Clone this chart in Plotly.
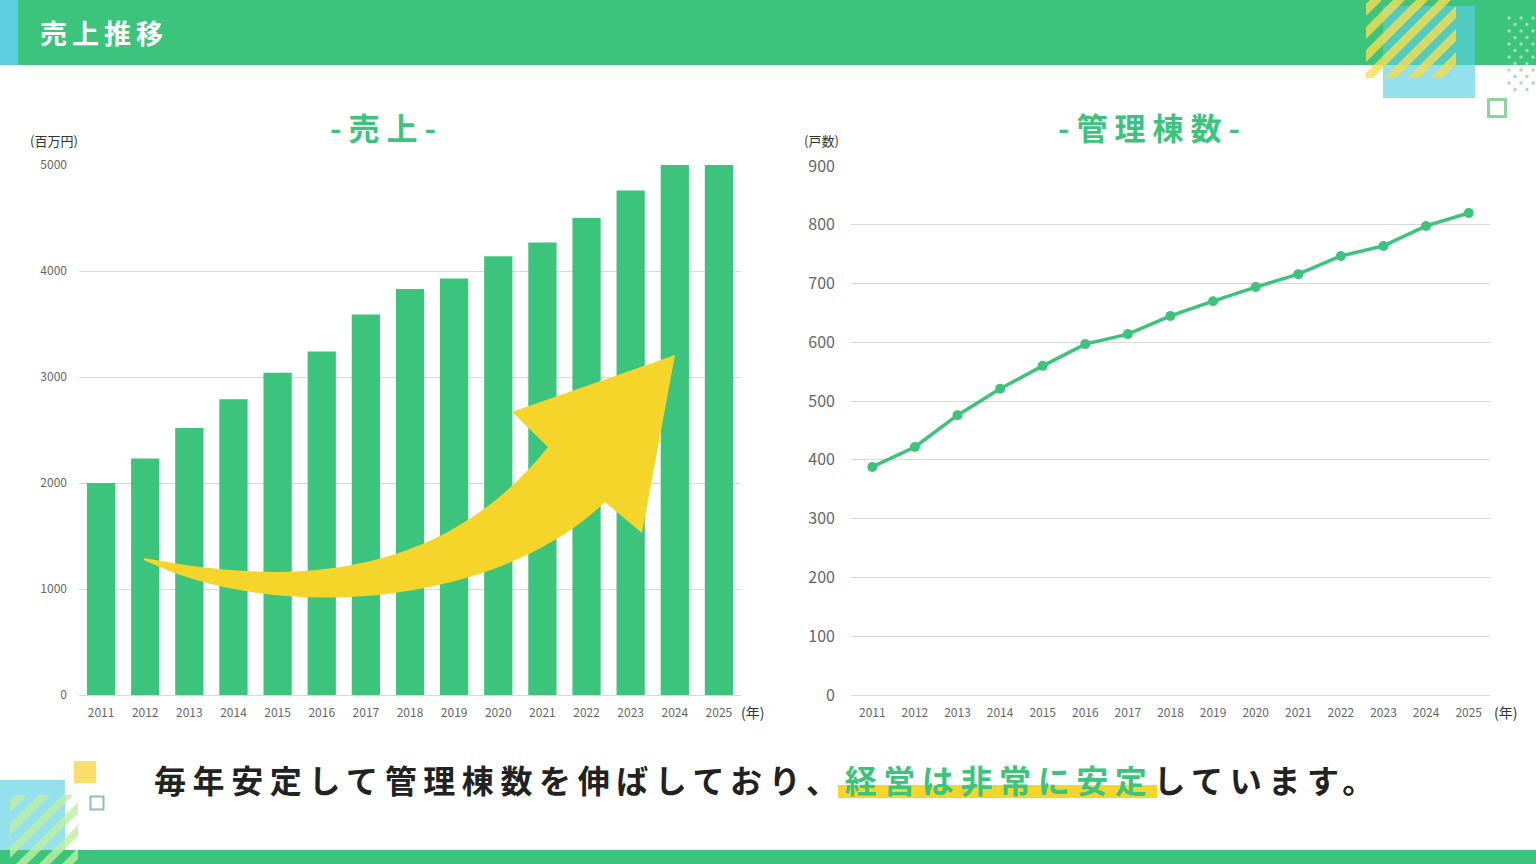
import plotly.graph_objects as go

W, H = 1536, 864

# ---------------- data ----------------
years = [str(y) for y in range(2011, 2026)]
sales = [2000, 2230, 2520, 2790, 3040, 3240, 3590, 3830, 3930, 4140, 4270, 4500, 4760, 5000, 5000]
units = [388, 422, 476, 521, 560, 597, 614, 645, 670, 694, 716, 747, 764, 798, 820]
sales_ticks = [0, 1000, 2000, 3000, 4000, 5000]
units_ticks = [0, 100, 200, 300, 400, 500, 600, 700, 800, 900]

GREEN = "#3cc47c"
CYAN = "#5ccfe3"
YELLOW = "#f6d52a"
FONT = "Noto Sans CJK JP"


def px(x):
    return x / W


def py(y):
    return 1 - y / H


def rect(x0, y0, x1, y1, **kw):
    d = dict(type="rect", xref="paper", yref="paper",
             x0=px(x0), x1=px(x1), y0=py(y1), y1=py(y0), layer="above")
    d.update(kw)
    return d


def clip(poly, f):
    out = []
    n = len(poly)
    for i in range(n):
        a, b = poly[i], poly[(i + 1) % n]
        fa, fb = f(a), f(b)
        if fa >= 0:
            out.append(a)
        if (fa >= 0) != (fb >= 0):
            t = fa / (fa - fb)
            out.append((a[0] + t * (b[0] - a[0]), a[1] + t * (b[1] - a[1])))
    return out


def stripes(x0, y0, x1, y1, period, width, offset, color, opacity):
    shapes = []
    base = [(x0, y0), (x1, y0), (x1, y1), (x0, y1)]
    c = x0 + y0 - period + offset
    while c < x1 + y1:
        lo, hi = c, c + width
        p = clip(base, lambda q, lo=lo: q[0] + q[1] - lo)
        p = clip(p, lambda q, hi=hi: hi - (q[0] + q[1]))
        if len(p) >= 3:
            path = "M " + " L ".join(f"{px(a):.5f},{py(b):.5f}" for a, b in p) + " Z"
            shapes.append(dict(type="path", xref="paper", yref="paper", path=path,
                               fillcolor=color, opacity=opacity, line=dict(width=0), layer="above"))
        c += period
    return shapes


def pt(x, y):
    return f"{px(x):.5f},{py(y):.5f}"


shapes = []
shapes.append(rect(0, 0, W, 65, fillcolor=GREEN, line=dict(width=0)))
shapes.append(rect(0, 0, 18, 65, fillcolor=CYAN, line=dict(width=0)))
shapes.append(rect(0, 850, W, H, fillcolor=GREEN, line=dict(width=0)))

# top-right decoration
shapes.append(rect(1383, 6, 1475, 98, fillcolor=CYAN, opacity=0.65, line=dict(width=0)))
shapes += stripes(1366, 0, 1456, 78, 23, 12, 4, "#f7dc4e", 0.8)
for k in range(12):
    yy = 18 + 6.5 * k
    xx = 1509 + (6 if k % 2 else 0)
    while xx < W:
        shapes.append(dict(type="circle", xref="paper", yref="paper",
                           x0=px(xx - 1.7), x1=px(xx + 1.7), y0=py(yy + 1.7), y1=py(yy - 1.7),
                           fillcolor="#a3deb5", line=dict(width=0), layer="above"))
        xx += 12
shapes.append(rect(1488.5, 99.5, 1505.5, 116.5, fillcolor="rgba(0,0,0,0)",
                   line=dict(color="#8ed49f", width=3)))

# bottom-left decoration
shapes.append(rect(0, 780, 65, 850, fillcolor=CYAN, opacity=0.65, line=dict(width=0)))
shapes += stripes(10, 795, 78, 864, 23, 11, 6, "#bdf0a0", 0.8)
shapes.append(rect(74, 761, 96, 783, fillcolor="#f9de6a", line=dict(width=0)))
shapes.append(rect(90.5, 796.5, 103.5, 809.5, fillcolor="rgba(0,0,0,0)",
                   line=dict(color="#8cbfae", width=2)))

# highlight behind green phrase
shapes.append(rect(838, 785, 1157, 798, fillcolor=YELLOW, line=dict(width=0), layer="below"))

# big yellow arrow over the bar chart
arrow = ("M " + pt(144, 558) +
         " C " + pt(260, 580) + " " + pt(430, 595) + " " + pt(548, 447) +
         " L " + pt(512, 412) + " L " + pt(675, 355) + " L " + pt(642, 533) +
         " L " + pt(605, 502) +
         " C " + pt(500, 604) + " " + pt(280, 626) + " " + pt(144, 560) + " Z")
shapes.append(dict(type="path", xref="paper", yref="paper", path=arrow,
                   fillcolor=YELLOW, line=dict(width=0), layer="above"))

# ---------------- traces ----------------
fig = go.Figure()
fig.add_trace(go.Bar(x=years, y=sales, marker=dict(color=GREEN, line=dict(width=0)),
                     xaxis="x", yaxis="y", showlegend=False, hoverinfo="x+y"))
fig.add_trace(go.Scatter(x=years, y=units, mode="lines+markers",
                         line=dict(color=GREEN, width=3.5),
                         marker=dict(color=GREEN, size=10),
                         xaxis="x2", yaxis="y2", showlegend=False))

# ---------------- annotations ----------------
ann = []


def text(x, y, s, size, color="#333", xanchor="center", bold=False, spacing=0):
    t = s
    if spacing:
        t = f'<span style="letter-spacing:{spacing}px">{t}</span>'
    if bold:
        t = f"<b>{t}</b>"
    ann.append(dict(x=px(x), y=py(y), xref="paper", yref="paper", text=t, showarrow=False,
                    xanchor=xanchor, yanchor="middle",
                    font=dict(family=FONT, size=size, color=color)))


text(38, 33, "売上推移", 27, "#ffffff", xanchor="left", bold=True, spacing=5)
text(386, 126, "-売上-", 31, GREEN, bold=True, spacing=7)
text(1152, 126, "-管理棟数-", 31, GREEN, bold=True, spacing=7)
text(28, 141, "(百万円)", 13, "#333", xanchor="left")
text(802, 141, "(戸数)", 13, "#333", xanchor="left")
text(739, 712, "(年)", 14, "#333", xanchor="left")
text(1492, 712, "(年)", 14, "#333", xanchor="left")

sentence = ('<span style="letter-spacing:6.6px">毎年安定して管理棟数を伸ばしており、'
            f'<span style="fill:{GREEN}">経営は非常に安定</span>しています。</span>')
ann.append(dict(x=px(152), y=py(779), xref="paper", yref="paper", text=f"<b>{sentence}</b>",
                showarrow=False, xanchor="left", yanchor="middle",
                font=dict(family=FONT, size=32, color="#222222")))

axis_common = dict(showline=False, ticks="", fixedrange=True, automargin=False)

fig.update_layout(
    width=W, height=H, autosize=False,
    margin=dict(l=0, r=0, t=0, b=0, pad=0),
    showlegend=False,
    paper_bgcolor="white", plot_bgcolor="rgba(0,0,0,0)",
    bargap=0.36,
    font=dict(family=FONT),
    xaxis=dict(domain=[px(79), px(741)], type="category", range=[-0.5, 14.5],
               showgrid=False, zeroline=False, anchor="y",
               tickfont=dict(size=12, color="#666"), ticklabelstandoff=9, **axis_common),
    yaxis=dict(domain=[py(695), py(165)], range=[0, 5000], tickvals=sales_ticks,
               showgrid=True, gridcolor="#d9d9d9", gridwidth=1,
               zeroline=True, zerolinecolor="#d9d9d9", zerolinewidth=1, anchor="x",
               tickfont=dict(size=12, color="#666"), ticklabelstandoff=11, **axis_common),
    xaxis2=dict(domain=[px(851), px(1490)], type="category", range=[-0.5, 14.5],
                showgrid=False, zeroline=False, anchor="y2",
                tickfont=dict(size=12, color="#666"), ticklabelstandoff=9, **axis_common),
    yaxis2=dict(domain=[py(695), py(166)], range=[0, 900], tickvals=units_ticks,
                showgrid=True, gridcolor="#d9d9d9", gridwidth=1,
                zeroline=True, zerolinecolor="#d9d9d9", zerolinewidth=1, anchor="x2",
                tickfont=dict(size=16, color="#666"), ticklabelstandoff=15, **axis_common),
    shapes=shapes,
    annotations=ann,
)

fig.write_html(
    "out.html",
    config={"displayModeBar": False},
    post_script="document.body.style.margin='0';document.body.style.padding='0';"
                "document.documentElement.style.overflow='hidden';",
)
